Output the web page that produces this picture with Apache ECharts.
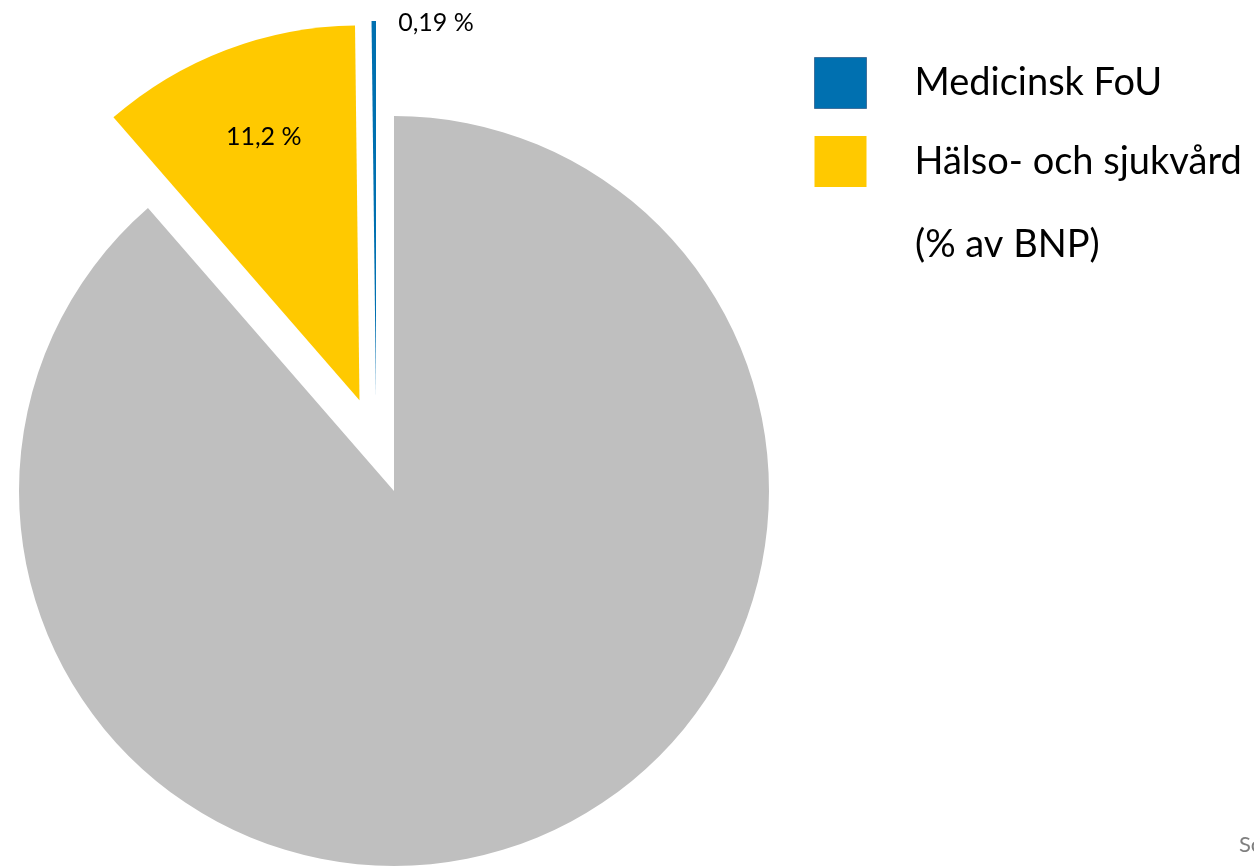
<!DOCTYPE html>
<html>
<head>
<meta charset="utf-8">
<script src="https://cdn.jsdelivr.net/npm/echarts@6/dist/echarts.min.js"></script>
<style>
  html, body { margin: 0; padding: 0; background: #fff; }
  #chart { width: 1254px; height: 866px; }
</style>
</head>
<body>
<div id="chart"></div>
<script>
// share of GDP (%)
const names = ['Övrigt', 'Hälso- och sjukvård', 'Medicinsk FoU']
const values = [88.61, 11.2, 0.19]
const labels = ['', '11,2 %', '0,19 %']
const colors = ['#BFBFBF', '#FFC900', '#0070B0']
const legendNames = ['Medicinsk FoU', 'Hälso- och sjukvård']
const unitNote = '(% av BNP)'

const FONT = 'Lato'
const chart = echarts.init(document.getElementById('chart'))

// main pie: grey + exploded yellow slice (blue drawn by its own series)
const mainData = names.map((n, i) => ({
  name: n,
  value: values[i],
  selected: i === 1,
  itemStyle: { color: i === 2 ? 'rgba(0,0,0,0)' : colors[i] },
  label: { show: i === 1, formatter: labels[i] }
}))

// blue slice: same angles, pulled out separately
const blueData = names.map((n, i) => ({
  name: n + ' ',
  value: values[i],
  itemStyle: { color: i === 2 ? colors[i] : 'rgba(0,0,0,0)' },
  label: { show: i === 2, formatter: labels[i] }
}))

const option = {
  backgroundColor: '#fff',
  animation: false,
  legend: {
    orient: 'vertical',
    left: 814,
    top: 57,
    padding: 0,
    itemWidth: 52,
    itemHeight: 51,
    itemGap: 27,
    icon: 'rect',
    selectedMode: false,
    textStyle: {
      fontFamily: FONT,
      fontSize: 38,
      color: '#000',
      padding: [0, 0, 0, 43]
    },
    data: [
      { name: legendNames[0], itemStyle: { color: colors[2], borderColor: '#41719C', borderWidth: 1 } },
      { name: legendNames[1], itemStyle: { color: colors[1] } }
    ]
  },
  graphic: [
    {
      type: 'text',
      left: 915,
      top: 226,
      style: { text: unitNote, font: '38px ' + FONT, fill: '#000' }
    },
    {
      type: 'text',
      left: 1239,
      top: 834,
      style: { text: 'Source', font: '22px ' + FONT, fill: '#7F7F7F' }
    }
  ],
  series: [
    {
      type: 'pie',
      center: [394, 491],
      radius: 375,
      startAngle: 90,
      clockwise: true,
      selectedMode: 'multiple',
      selectedOffset: 97,
      avoidLabelOverlap: false,
      silent: true,
      emphasis: { disabled: true },
      label: {
        position: 'inside',
        fontFamily: FONT,
        fontSize: 25,
        color: '#000'
      },
      labelLine: { show: false },
      labelLayout: function (p) {
        return { dx: -28, dy: -85 }
      },
      data: mainData
    },
    {
      type: 'pie',
      center: [376, 396],
      radius: 375,
      startAngle: 90,
      clockwise: true,
      avoidLabelOverlap: false,
      silent: true,
      emphasis: { disabled: true },
      label: {
        position: 'inside',
        fontFamily: FONT,
        fontSize: 25,
        color: '#000'
      },
      labelLine: { show: false },
      labelLayout: function (p) {
        return { x: 436, y: 23, align: 'center', verticalAlign: 'middle' }
      },
      data: blueData
    }
  ]
}
chart.setOption(option)
</script>
</body>
</html>
